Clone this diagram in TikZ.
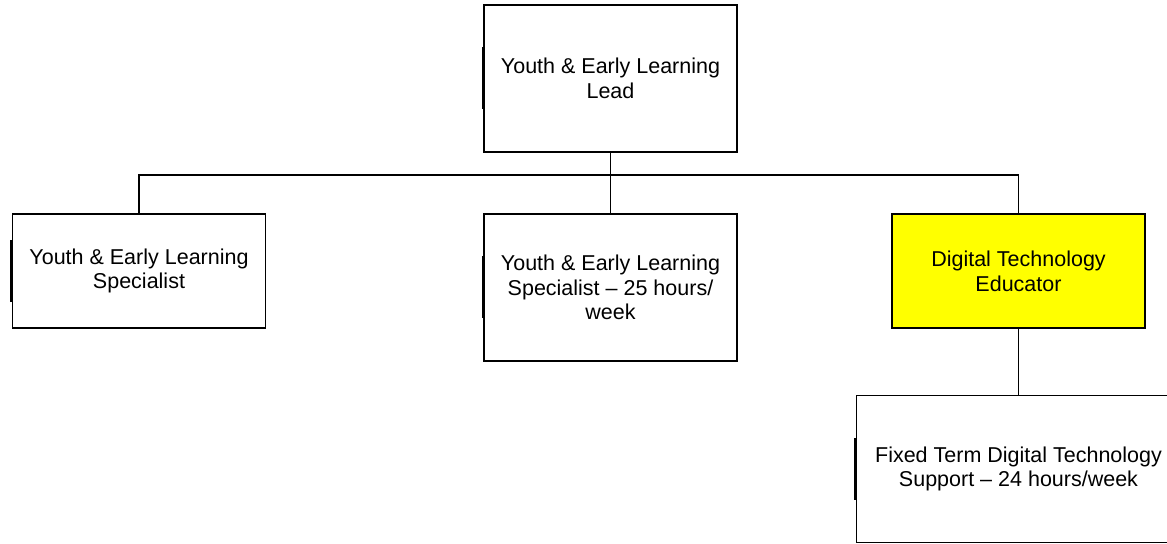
\documentclass[tikz,border=0pt]{standalone}
\usepackage{fontspec}
\setmainfont{Liberation Sans}
\usepackage{tikz}
\usetikzlibrary{calc}
\definecolor{highlight}{HTML}{FFFF00}

\begin{document}
\begin{tikzpicture}[x=0.5pt,y=-0.5pt,
  role/.style={draw,line width=0.65pt,minimum width=126.5pt,minimum height=57pt,align=center,font=\fontsize{10.75}{12.4}\selectfont,inner sep=0pt},
  tall/.style={minimum height=73.5pt},
  link/.style={line width=0.7pt},
  edgemark/.style={line width=1.4pt},
]
  \useasboundingbox (0,0) rectangle (1167,544);

  \node[role,tall] (lead) at (610.5,78.5) {Youth \& Early Learning\\Lead};

  \node[role] (spec1) at (139,271) {Youth \& Early Learning\\Specialist};
  \node[role,tall] (spec2) at (610.5,287.5) {Youth \& Early Learning\\Specialist -- 25 hours/\\week};
  \node[role,fill=highlight] (dte) at (1018.5,271) {Digital Technology\\Educator};

  \node[role,tall,minimum width=162pt] (fixed) at (1018.5,469) {Fixed Term Digital Technology\\Support -- 24 hours/week};

  \coordinate (bus) at (610.5,175);
  \draw[link] (lead.south) -- (spec2.north);
  \draw[link] (spec1.north) |- (bus) -| (dte.north);
  \draw[link] (dte.south) -- (fixed.north);

  % darker strokes on the left edges
  \foreach \n in {lead,spec1,spec2,fixed}
    \draw[edgemark] ($(\n.west)+(0,-31)$) -- ($(\n.west)+(0,31)$);
\end{tikzpicture}
\end{document}
